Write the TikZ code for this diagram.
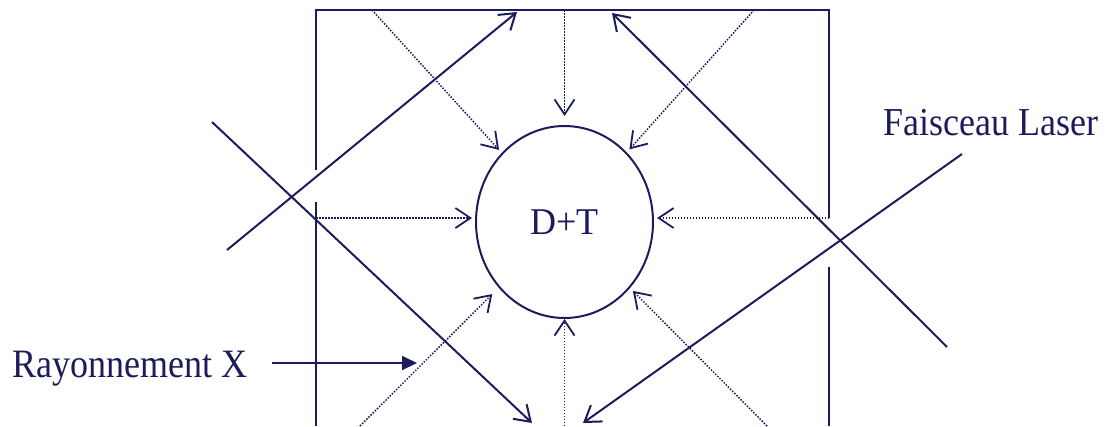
\documentclass[tikz,border=0pt]{standalone}
\usepackage{fontspec}
\setmainfont{Liberation Serif}
\usetikzlibrary{arrows.meta,shapes.geometric}
\definecolor{navy}{RGB}{28,28,92}
\begin{document}
\begin{tikzpicture}[x=1pt,y=-1pt,
  wall/.style={navy,line width=2pt},
  laser/.style={navy,line width=2pt,-{Straight Barb[length=15pt,width=20pt,line width=2pt]}},
  dotarrow/.style={navy,line width=1.5pt,dash pattern=on 1.5pt off 1.5pt,-{Straight Barb[length=15pt,width=20pt,line width=1.8pt]}},
  xarrow/.style={navy,line width=2pt,-{Triangle[length=15pt,width=14pt]}},
  lbl/.style={text=navy,font=\fontsize{36}{40}\selectfont,inner sep=0pt}]
\useasboundingbox (0,0) rectangle (1107,426);
% box walls
\coordinate (tl) at (316,10);
\coordinate (tr) at (829,10);
\coordinate (lg1) at (316,170);
\coordinate (lg2) at (316,202);
\coordinate (lb) at (316,426);
\coordinate (rg1) at (829,218);
\coordinate (rg2) at (829,267);
\coordinate (rb) at (829,426);
\draw[wall] (lg1) -- (tl) -- (tr) -- (rg1);
\draw[wall] (lg2) -- (lb);
\draw[wall] (rg2) -- (rb);
% target
\node[draw=navy,line width=2pt,ellipse,minimum width=177pt,minimum height=192pt,inner sep=0pt,lbl] (dt) at (564.5,222) {\scalebox{1}[1.05]{D+T}};
% dotted x-ray arrows
\coordinate (d1) at (372,10);
\coordinate (d2) at (564.5,10);
\coordinate (d3) at (754,10);
\coordinate (d4) at (316,218);
\coordinate (d5) at (829,218);
\coordinate (d6) at (360,426);
\coordinate (d7) at (564.5,426);
\coordinate (d8) at (767,426);
\draw[dotarrow,shorten >=4pt] (d1) -- (dt);
\draw[dotarrow,shorten >=9pt] (d2) -- (dt.north);
\draw[dotarrow,shorten >=4pt] (d3) -- (dt);
\draw[dotarrow,shorten >=3pt] (d4) -- (d4 -| dt.west);
\draw[dotarrow,shorten >=3pt] (d5) -- (d5 -| dt.east);
\draw[dotarrow,shorten >=9pt] (d6) -- (dt);
\draw[dotarrow] (d7) -- (dt.south);
\draw[dotarrow,shorten >=4pt] (d8) -- (dt);
% laser beams
\coordinate (a1) at (227,250);
\coordinate (b1) at (517,12);
\coordinate (a2) at (212,122);
\coordinate (b2) at (532,423);
\coordinate (a3) at (947,347);
\coordinate (b3) at (612,13);
\coordinate (a4) at (962,154);
\coordinate (b4) at (583,423);
\draw[laser] (a1) -- (b1);
\draw[laser] (a2) -- (b2);
\draw[laser] (a3) -- (b3);
\draw[laser] (a4) -- (b4);
% labels
\node[lbl,anchor=base west] (fl) at (883,135) {\scalebox{1}[1.1]{Faisceau Laser}};
\node[lbl,anchor=base west] (rx) at (12,377) {\scalebox{1}[1.12]{Rayonnement X}};
\coordinate (xs) at (272,363);
\coordinate (xe) at (417,363);
\draw[xarrow] (xs) -- (xe);
\end{tikzpicture}
\end{document}
